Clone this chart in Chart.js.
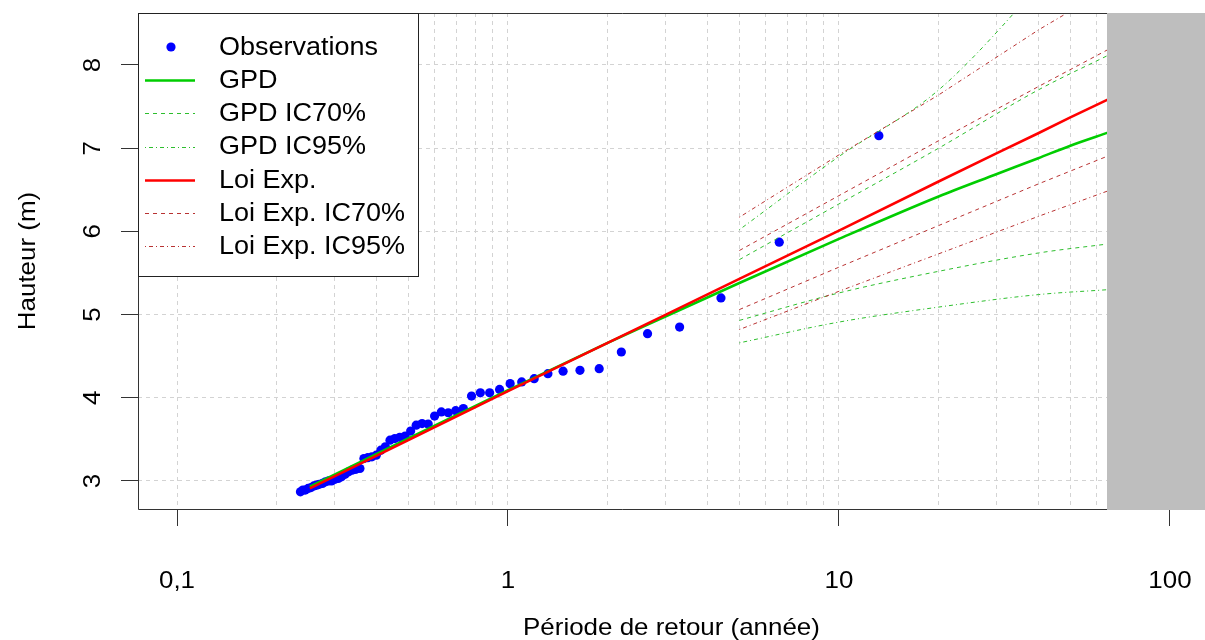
<!DOCTYPE html>
<html><head><meta charset="utf-8">
<script src="https://cdn.jsdelivr.net/npm/chart.js@4/dist/chart.umd.min.js"></script>
<style>html,body{margin:0;padding:0;background:#fff;overflow:hidden}</style>
</head><body>
<canvas id="c" width="1205" height="640"></canvas>
<script>
// ---- data ----
const obsT = [13.2, 6.6, 4.4, 3.3, 2.64, 2.2, 1.886, 1.65, 1.467, 1.32, 1.2, 1.1, 1.015, 0.943, 0.88, 0.825, 0.776, 0.733, 0.695, 0.66, 0.629, 0.6, 0.574, 0.55, 0.528, 0.508, 0.489, 0.471, 0.455, 0.44, 0.426, 0.413, 0.4, 0.388, 0.377, 0.367, 0.357, 0.347, 0.338, 0.33, 0.322, 0.314, 0.307, 0.3, 0.293, 0.287, 0.281, 0.275, 0.269, 0.264, 0.259, 0.254, 0.249, 0.244, 0.24, 0.236];
const obsH = [7.15, 5.87, 5.20, 4.85, 4.77, 4.55, 4.35, 4.33, 4.32, 4.29, 4.23, 4.19, 4.17, 4.10, 4.06, 4.06, 4.02, 3.87, 3.845, 3.82, 3.83, 3.78, 3.685, 3.69, 3.67, 3.60, 3.54, 3.525, 3.51, 3.49, 3.41, 3.37, 3.31, 3.29, 3.28, 3.27, 3.15, 3.14, 3.13, 3.11, 3.08, 3.05, 3.03, 3.02, 3.00, 3.00, 2.99, 2.97, 2.96, 2.95, 2.94, 2.92, 2.91, 2.89, 2.89, 2.87];

const fitT = [0.252, 0.5, 1, 2, 3, 5, 10, 20, 30, 40, 50, 65.3];
const gpdH = [2.93, 3.51, 4.09, 4.66, 4.98, 5.38, 5.91, 6.42, 6.69, 6.88, 7.03, 7.19];
const expH = [2.91, 3.49, 4.08, 4.66, 5.00, 5.43, 6.01, 6.60, 6.94, 7.18, 7.37, 7.59];

const ciT = [5, 10, 20, 40, 65.3];
const gpdUp95 = [6.02, 6.90, 7.70, 8.95, 9.95];
const gpdUp70 = [5.66, 6.33, 7.00, 7.70, 8.12];
const gpdLo70 = [4.93, 5.26, 5.52, 5.74, 5.85];
const gpdLo95 = [4.66, 4.91, 5.09, 5.24, 5.30];
const expUp95 = [6.17, 6.92, 7.64, 8.42, 8.92];
const expUp70 = [5.77, 6.43, 7.09, 7.74, 8.19];
const expLo70 = [5.06, 5.57, 6.07, 6.57, 6.91];
const expLo95 = [4.82, 5.28, 5.73, 6.18, 6.49];

const xTickValues = [0.1,0.2,0.3,0.4,0.5,0.6,0.7,0.8,0.9,1,2,3,4,5,6,7,8,9,10,20,30,40,50,60,70,80,90,100];
const xMajor = [0.1, 1, 10, 100];
const xMajorLabels = ['0,1', '1', '10', '100'];
const yTicks = [3, 4, 5, 6, 7, 8];
const grayStart = 64.5;
const xMin = 0.07623, xMax = 127.6, yMin = 2.663, yMax = 8.625;

const xTitle = 'Période de retour (année)';
const yTitle = 'Hauteur (m)';

// ---- styles ----
const GREEN = '#00CD00', RED = '#FF0000';
const GREEN_CI = '#2DBE2D', RED_CI = '#B83232';
const DASH = [4, 4], DOTDASH = [1, 3, 4, 3];
const FONT = '"Liberation Sans", Arial, sans-serif';
const SX = 1.08; // horizontal text stretch of the reference

const zip = (xs, ys) => xs.map((x, i) => ({x, y: ys[i]}));
const lineDs = (label, xs, ys, color, width, dash, order, smooth) => ({
  label, data: zip(xs, ys), borderColor: color, backgroundColor: color,
  borderWidth: width, borderDash: dash, pointRadius: 0, fill: false,
  cubicInterpolationMode: smooth ? 'monotone' : 'default', tension: smooth ? 0.4 : 0,
  order, showLine: true
});

const datasets = [
  {label: 'Observations', data: zip(obsT, obsH), showLine: false, pointRadius: 4.6,
   pointBackgroundColor: '#0000FF', pointBorderWidth: 0, borderColor: '#0000FF',
   backgroundColor: '#0000FF', order: 20},
  lineDs('GPD', fitT, gpdH, GREEN, 2.6, [], 12, true),
  lineDs('GPD IC70% sup', ciT, gpdUp70, GREEN_CI, 1, DASH, 11, true),
  lineDs('GPD IC70% inf', ciT, gpdLo70, GREEN_CI, 1, DASH, 11, true),
  lineDs('GPD IC95% sup', ciT, gpdUp95, GREEN_CI, 1, DOTDASH, 11, true),
  lineDs('GPD IC95% inf', ciT, gpdLo95, GREEN_CI, 1, DOTDASH, 11, true),
  lineDs('Loi Exp.', fitT, expH, RED, 2.6, [], 5, false),
  lineDs('Loi Exp. IC70% sup', ciT, expUp70, RED_CI, 1, DASH, 6, false),
  lineDs('Loi Exp. IC70% inf', ciT, expLo70, RED_CI, 1, DASH, 6, false),
  lineDs('Loi Exp. IC95% sup', ciT, expUp95, RED_CI, 1, DOTDASH, 6, false),
  lineDs('Loi Exp. IC95% inf', ciT, expLo95, RED_CI, 1, DOTDASH, 6, false)
];

const legendItems = [
  {text: 'Observations', type: 'point', color: '#0000FF'},
  {text: 'GPD', type: 'line', color: GREEN, width: 2.6, dash: []},
  {text: 'GPD IC70%', type: 'line', color: GREEN_CI, width: 1, dash: DASH},
  {text: 'GPD IC95%', type: 'line', color: GREEN_CI, width: 1, dash: DOTDASH},
  {text: 'Loi Exp.', type: 'line', color: RED, width: 2.6, dash: []},
  {text: 'Loi Exp. IC70%', type: 'line', color: RED_CI, width: 1, dash: DASH},
  {text: 'Loi Exp. IC95%', type: 'line', color: RED_CI, width: 1, dash: DOTDASH}
];

function txt(ctx, s, x, y, align, rot) {
  ctx.save();
  ctx.translate(x, y);
  if (rot) ctx.rotate(rot);
  ctx.scale(SX, 1);
  ctx.textAlign = align;
  ctx.fillText(s, 0, 0);
  ctx.restore();
}

const rPlot = {
  id: 'rPlot',
  afterDatasetsDraw(chart) {
    const {ctx, chartArea: a, scales: {x}} = chart;
    const gx = Math.round(x.getPixelForValue(grayStart));
    ctx.save();
    ctx.fillStyle = '#BEBEBE';
    ctx.fillRect(gx, a.top, a.right - gx, a.bottom - a.top + 1);
    ctx.strokeStyle = '#333';
    ctx.lineWidth = 1;
    ctx.setLineDash([]);
    ctx.beginPath();
    ctx.moveTo(gx, a.top + 0.5);
    ctx.lineTo(a.left + 0.5, a.top + 0.5);
    ctx.lineTo(a.left + 0.5, a.bottom + 0.5);
    ctx.lineTo(gx, a.bottom + 0.5);
    ctx.stroke();
    ctx.restore();
  },
  afterDraw(chart) {
    const {ctx, chartArea: a, scales: {x, y}} = chart;
    ctx.save();
    ctx.fillStyle = '#000';
    ctx.font = '24px ' + FONT;
    ctx.textBaseline = 'middle';
    xMajor.forEach((v, i) => txt(ctx, xMajorLabels[i], x.getPixelForValue(v), 581, 'center'));
    txt(ctx, xTitle, (a.left + a.right) / 2, 628, 'center');
    yTicks.forEach(v => txt(ctx, String(v), 93, y.getPixelForValue(v), 'center', -Math.PI / 2));
    txt(ctx, yTitle, 28, (a.top + a.bottom) / 2, 'center', -Math.PI / 2);

    // legend
    const lx = a.left, ly = a.top, lw = 280, lh = 263;
    ctx.fillStyle = '#fff';
    ctx.fillRect(lx, ly, lw, lh);
    ctx.strokeStyle = '#222';
    ctx.lineWidth = 1;
    ctx.strokeRect(lx + 0.5, ly + 0.5, lw, lh);
    ctx.font = '25px ' + FONT;
    legendItems.forEach((it, i) => {
      const cy = 47 + i * 33.2;
      if (it.type === 'point') {
        ctx.fillStyle = it.color;
        ctx.beginPath();
        ctx.arc(171, cy, 4.6, 0, Math.PI * 2);
        ctx.fill();
      } else {
        ctx.strokeStyle = it.color;
        ctx.lineWidth = it.width;
        ctx.setLineDash(it.dash);
        ctx.beginPath();
        ctx.moveTo(145, Math.round(cy) + 0.5);
        ctx.lineTo(195, Math.round(cy) + 0.5);
        ctx.stroke();
        ctx.setLineDash([]);
      }
      ctx.fillStyle = '#000';
      txt(ctx, it.text, 219, cy + 1, 'left');
    });
    ctx.restore();
  }
};

new Chart(document.getElementById('c'), {
  type: 'line',
  data: {datasets},
  plugins: [rPlot],
  options: {
    responsive: false,
    animation: false,
    devicePixelRatio: 1,
    events: [],
    layout: {autoPadding: false, padding: {top: 13, left: 0, right: 0, bottom: 0}},
    plugins: {legend: {display: false}, tooltip: {enabled: false}},
    scales: {
      x: {
        type: 'logarithmic', min: xMin, max: xMax,
        afterBuildTicks: s => { s.ticks = xTickValues.map(v => ({value: v})); },
        afterFit: s => { s.height = 131; },
        ticks: {display: false},
        border: {display: false, dash: [4, 4]},
        grid: {
          color: '#D3D3D3', lineWidth: 1, drawTicks: true, tickLength: 17,
          tickBorderDash: [], tickWidth: 1,
          tickColor: c => (c.tick && xMajor.includes(c.tick.value)) ? '#333' : 'rgba(0,0,0,0)'
        }
      },
      y: {
        type: 'linear', min: yMin, max: yMax,
        afterBuildTicks: s => { s.ticks = yTicks.map(v => ({value: v})); },
        afterFit: s => { s.width = 138; },
        ticks: {display: false},
        border: {display: false, dash: [4, 4]},
        grid: {
          color: '#D3D3D3', lineWidth: 1, drawTicks: true, tickLength: 17,
          tickBorderDash: [], tickWidth: 1, tickColor: '#333'
        }
      }
    }
  }
});
</script>
</body></html>
